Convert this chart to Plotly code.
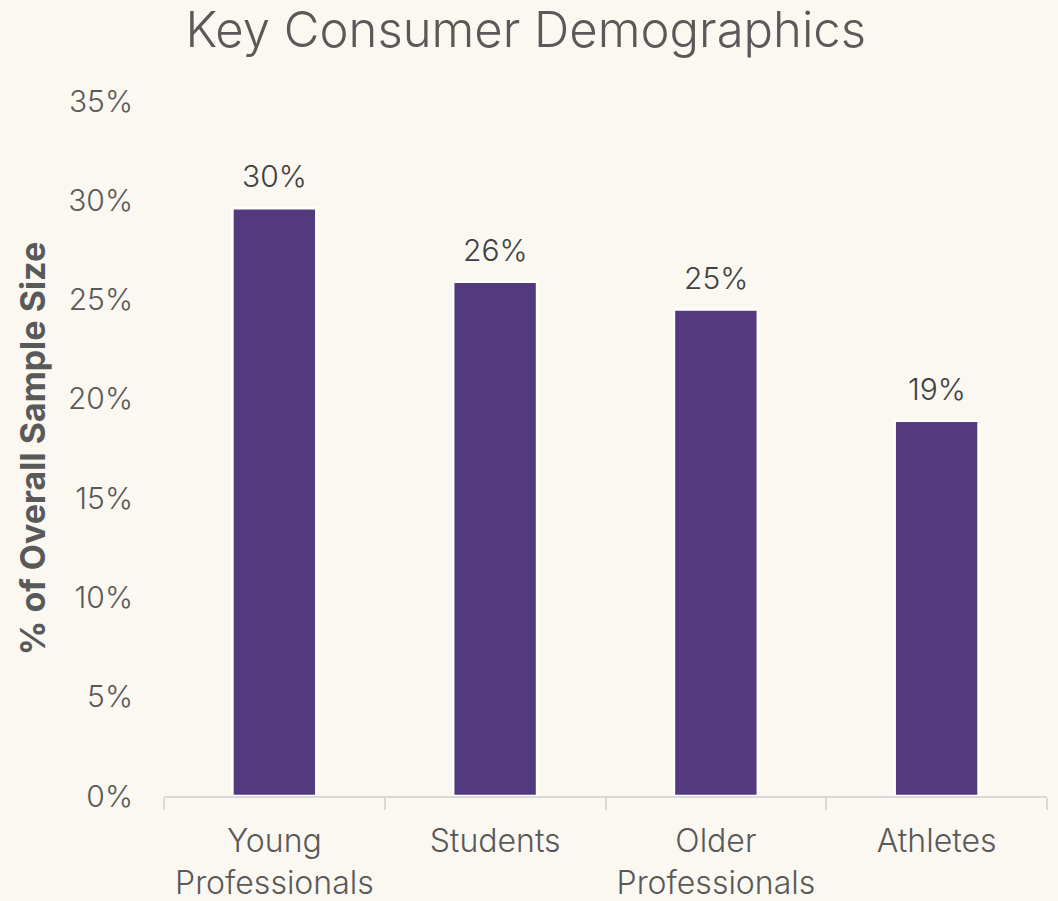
import plotly.graph_objects as go

categories = ["Young<br>Professionals", "Students", "Older<br>Professionals", "Athletes"]
values = [29.6, 25.9, 24.5, 18.9]
labels = ["30%", "26%", "25%", "19%"]
y_ticks = [0, 5, 10, 15, 20, 25, 30, 35]
y_tick_text = ["0%", "5%", "10%", "15%", "20%", "25%", "30%", "35%"]

FONT = "Inter, Noto Sans, sans-serif"
BG = "#FBF8F2"

fig = go.Figure(go.Bar(
    x=categories, y=values,
    marker=dict(color="#533A7F", line=dict(color="white", width=2.5)),
    width=0.38, cliponaxis=False,
))

for c, v, t in zip(categories, values, labels):
    fig.add_annotation(x=c, y=v, text=t, showarrow=False, yanchor="bottom", yshift=12,
                       font=dict(family=FONT, size=30, color="#404040", weight=300))

fig.update_layout(
    width=1058, height=901,
    paper_bgcolor=BG, plot_bgcolor=BG,
    margin=dict(l=164, r=11, t=101, b=105),
    title=dict(text="Key Consumer Demographics", x=0.497, xref="container", xanchor="center",
               y=1 - 30/901, yref="container", yanchor="middle",
               font=dict(family=FONT, size=49, color="#595959", weight=300)),
    showlegend=False,
    font=dict(family=FONT, color="#595959"),
)
fig.update_yaxes(range=[0, 35], tickvals=y_ticks, ticktext=y_tick_text, automargin=False,
                 showgrid=False, zeroline=False, showline=False, ticks="",
                 ticklabelstandoff=30,
                 tickfont=dict(family=FONT, size=30, color="#595959", weight=300),
                 title=dict(text="<b>% of Overall Sample Size</b>", standoff=12,
                            font=dict(family=FONT, size=34, color="#595959")))
fig.update_xaxes(showline=True, linecolor="#D9D9D9", linewidth=2, automargin=False,
                 ticks="outside", tickson="boundaries", ticklen=12, tickcolor="#D9D9D9", tickwidth=2,
                 ticklabelstandoff=16,
                 tickfont=dict(family=FONT, size=32, color="#595959", weight=300), showgrid=False)

fig.write_html("out.html")
